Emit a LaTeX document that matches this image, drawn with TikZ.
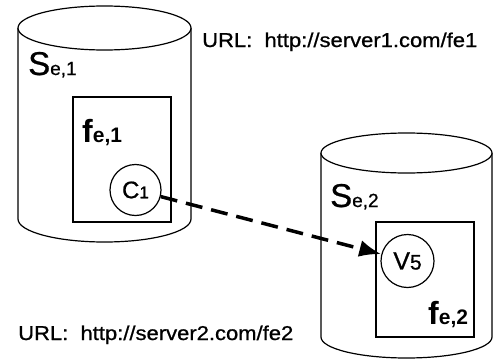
\documentclass[tikz,border=0pt]{standalone}
\usepackage{fontspec}
\setmainfont{Liberation Sans}
\newfontfamily\heavysans{Liberation Sans}[FakeBold=0.8]
\usetikzlibrary{arrows.meta}
\tikzset{
  outline/.style={draw=black, line width=1.2pt, fill=white},
  token/.style={circle, draw=black, line width=1.2pt, minimum size=51pt, inner sep=0pt, font=\heavysans},
  link/.style={line width=3.5pt, dash pattern=on 17pt off 9pt,
    -{Latex[length=22pt,width=17pt]}},
  url/.style={anchor=base west, inner sep=0pt, font=\heavysans\fontsize{20}{20}\selectfont},
  label/.style={anchor=base west, inner sep=0pt, font=\heavysans}
}
\begin{document}
\begin{tikzpicture}[x=1pt,y=1pt]
\useasboundingbox (0,0) rectangle (501,360);

% server 1 cylinder
\path[outline] (18,332) -- (18,141)
  arc[start angle=180, end angle=360, x radius=86.5pt, y radius=23pt]
  -- (191,332);
\draw[outline] (104.5,332) ellipse [x radius=86.5pt, y radius=22pt];

% server 2 cylinder
\path[outline] (321,207) -- (321,23)
  arc[start angle=180, end angle=360, x radius=85.5pt, y radius=21pt]
  -- (492,207);
\draw[outline] (406.5,207) ellipse [x radius=85.5pt, y radius=20pt];

% files
\node[outline, rectangle, inner sep=0pt, minimum width=98pt, minimum height=125pt]
  (f1) at (122,200.5) {};
\node[outline, rectangle, inner sep=0pt, minimum width=98pt, minimum height=115pt]
  (f2) at (425,80.5) {};

% server and file labels
\node[label] (s1) at (28,285)
  {{\fontsize{33}{33}\selectfont S}{\fontsize{19}{19}\selectfont e,1}};
\node[label] (s2) at (330,153)
  {{\fontsize{33}{33}\selectfont S}{\fontsize{19}{19}\selectfont e,2}};
\node[label, font=\bfseries] (lf1) at (82,218)
  {{\fontsize{32}{32}\selectfont f}{\fontsize{21}{21}\selectfont e,1}};
\node[label, font=\bfseries] (lf2) at (428,36)
  {{\fontsize{32}{32}\selectfont f}{\fontsize{21}{21}\selectfont e,2}};

% variables
\node[token] (c1) at (135.5,170)
  {{\fontsize{24}{24}\selectfont C}{\fontsize{17}{17}\selectfont 1}};
\node[token, minimum size=53pt] (v5) at (407.5,99)
  {{\fontsize{25}{25}\selectfont V}{\fontsize{21}{21}\selectfont 5}};

% URLs
\node[url] (u1) at (202,313) {\scalebox{1.1}[1]{URL:\ \ http://server1.com/fe1}};
\node[url] (u2) at (18,20) {\scalebox{1.1}[1]{URL:\ \ http://server2.com/fe2}};

% reference link
\draw[link] (c1) -- (v5);
\end{tikzpicture}
\end{document}
